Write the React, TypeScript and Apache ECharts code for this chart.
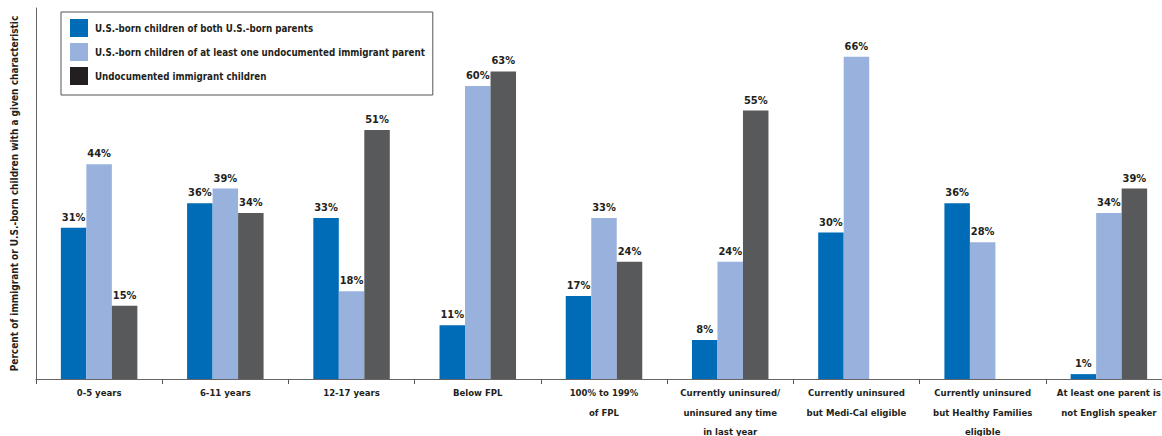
import React, { useEffect, useRef } from "react";
import * as echarts from "echarts";

const categories = [
  "0-5 years",
  "6-11 years",
  "12-17 years",
  "Below FPL",
  "100% to 199%\nof FPL",
  "Currently uninsured/\nuninsured any time\nin last year",
  "Currently uninsured\nbut Medi-Cal eligible",
  "Currently uninsured\nbut Healthy Families\neligible",
  "At least one parent is\nnot English speaker",
];
const seriesNames = [
  "U.S.-born children of both U.S.-born parents",
  "U.S.-born children of at least one undocumented immigrant parent",
  "Undocumented immigrant children",
];
const usBornParents = [31, 36, 33, 11, 17, 8, 30, 36, 1];
const usBornUndocParent = [44, 39, 18, 60, 33, 24, 66, 28, 34];
const undocChildren = [15, 34, 51, 63, 24, 55, null, null, 39];

const FONT = "'DejaVu Sans Condensed', 'Liberation Sans', sans-serif";
const TEXT = "#231F20";
const colors = ["#006BB6", "#98B2DD", "#58595B"];
const legendColors = ["#006BB6", "#98B2DD", "#231F20"];

export default function App() {
  const ref = useRef<HTMLDivElement>(null);
  useEffect(() => {
    const chart = echarts.init(ref.current!, null, { renderer: "svg" });
    const values = [usBornParents, usBornUndocParent, undocChildren];
    chart.setOption({
      animation: false,
      textStyle: { fontFamily: FONT },
      grid: { left: 36, top: 8, width: 1136, height: 371, outerBoundsMode: "none", containLabel: false },
      legend: {
        orient: "vertical",
        left: 61,
        top: 12,
        padding: [7, 8, 10, 9],
        itemWidth: 18,
        itemHeight: 18,
        itemGap: 6,
        borderColor: "#555",
        borderWidth: 1,
        icon: "rect",
        selectedMode: false,
        textStyle: { fontFamily: FONT, fontWeight: "bold", fontSize: 9.7, color: TEXT, padding: [0, 0, 0, 2] },
        data: seriesNames.map((n, i) => ({ name: n, itemStyle: { color: legendColors[i] } })),
      },
      xAxis: {
        type: "category",
        data: categories,
        axisLine: { lineStyle: { color: "#666", width: 1 } },
        axisTick: { show: true, length: 5, lineStyle: { color: "#555" } },
        axisLabel: {
          interval: 0,
          margin: 4,
          fontFamily: FONT,
          fontWeight: "bold",
          fontSize: 9.5,
          lineHeight: 19.5,
          color: TEXT,
        },
      },
      yAxis: {
        type: "value",
        min: 0,
        max: 76,
        name: "Percent of immigrant or U.S.-born children with a given characteristic",
        nameLocation: "middle",
        nameGap: 17,
        nameTextStyle: { fontFamily: FONT, fontWeight: "bold", fontSize: 10, color: TEXT },
        axisLine: { show: true, lineStyle: { color: "#666", width: 1 } },
        axisTick: { show: false },
        axisLabel: { show: false },
        splitLine: { show: false },
      },
      series: seriesNames.map((n, i) => ({
        name: n,
        type: "bar",
        data: values[i],
        barWidth: 25.5,
        barGap: "0%",
        itemStyle: { color: colors[i] },
        label: {
          show: true,
          position: "top",
          distance: 5,
          formatter: "{c}%",
          fontFamily: FONT,
          fontWeight: "bold",
          fontSize: 11,
          color: TEXT,
        },
      })),
    });
    return () => chart.dispose();
  }, []);
  return (
    <div
      ref={ref}
      style={{ position: "fixed", left: 0, top: 0, width: 1162, height: 436, background: "#fff" }}
    />
  );
}
